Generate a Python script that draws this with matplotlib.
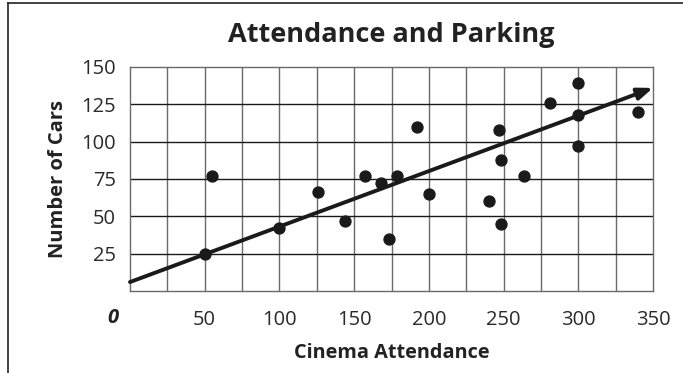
import numpy as np
import matplotlib.pyplot as plt
from matplotlib.lines import Line2D

# ------------------------------------------------------------
# data
# ------------------------------------------------------------
attendance = [50, 55, 100, 126, 144, 157, 168, 173, 179, 192, 200,
              240, 247, 248, 248, 264, 281, 300, 300, 300, 340]
cars       = [25, 77, 42, 66, 47, 77, 72, 35, 77, 110, 65,
              60, 108, 88, 45, 77, 126, 139, 118, 97, 120]

trend_x = [0, 350]
trend_y = [6, 136]

x_ticks = [50, 100, 150, 200, 250, 300, 350]
y_ticks = [25, 50, 75, 100, 125, 150]

plt.rcParams['font.family'] = ['Open Sans', 'DejaVu Sans']

fig = plt.figure(figsize=(6.83, 3.73), dpi=100)
W, H = 683, 373
# axes box in pixels: left 130, right 653, top 67, bottom 291
ax = fig.add_axes([130 / W, 1 - 291 / H, (653 - 130) / W, (291 - 67) / H])

ax.set_xlim(0, 350)
ax.set_ylim(0, 150)

# grid: vertical lines grey, horizontal black
for xv in np.arange(25, 350, 25):
    ax.axvline(xv, color='#6a6a6a', lw=1.0, zorder=1)
for yv in np.arange(25, 150, 25):
    ax.axhline(yv, color='#1a1a1a', lw=1.0, zorder=1)
for s in ax.spines.values():
    s.set_color('#6a6a6a')
    s.set_linewidth(1.0)

ax.set_xticks(x_ticks)
ax.set_yticks(y_ticks)
ax.tick_params(length=0, labelsize=14.5, colors='#2a2a2a')
ax.tick_params(axis='y', pad=10)
ax.tick_params(axis='x', pad=14)

# trend line with arrow
ax.annotate('', xy=(trend_x[1], trend_y[1]), xytext=(trend_x[0], trend_y[0]),
            arrowprops=dict(arrowstyle='-|>,head_length=0.9,head_width=0.35',
                            color='#1a1a1a', lw=2.8, shrinkA=0, shrinkB=0),
            zorder=3, annotation_clip=False)

ax.scatter(attendance, cars, s=62, color='#1a1a1a', zorder=4, clip_on=False)

# italic origin label, left of the axis on the tick-label row
fig.text(113 / W, 1 - 318 / H, '0', ha='center', va='center',
         fontsize=14.5, fontstyle='italic', fontweight='bold', color='#222222')

ax.set_title('Attendance and Parking', fontsize=19.5, fontweight='bold',
             color='#222222', pad=18)
ax.set_xlabel('Cinema Attendance', fontsize=14.3, fontweight='bold',
              color='#222222', labelpad=9)
ax.set_ylabel('Number of Cars', fontsize=14.5, fontweight='bold',
              color='#222222', labelpad=10)

# frame around figure (left and top edges visible)
fig.add_artist(Line2D([8 / W, 8 / W], [0, 1 - 3 / H], transform=fig.transFigure,
                      color='#222222', lw=1.2))
fig.add_artist(Line2D([8 / W, 1], [1 - 3 / H, 1 - 3 / H], transform=fig.transFigure,
                      color='#222222', lw=1.2))

fig.savefig('out.png', dpi=100)
